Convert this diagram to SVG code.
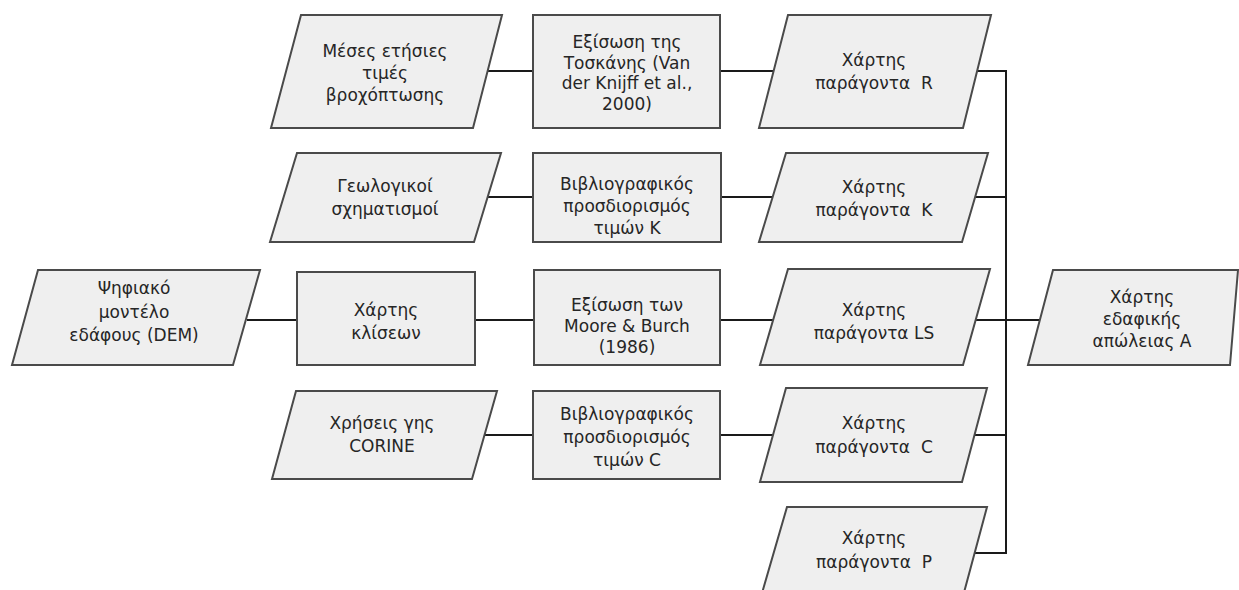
<svg xmlns="http://www.w3.org/2000/svg" width="1239" height="590" viewBox="0 0 1239 590">
<style>
.shape{fill:#efefef;stroke:#4a4a4a;stroke-width:2}
.lbl{font-family:"DejaVu Sans","Liberation Sans",sans-serif;font-size:17px;fill:#262626;text-anchor:middle}
.conn{stroke:#1a1a1a;stroke-width:2;fill:none}
</style>
<rect width="1239" height="590" fill="#ffffff"/>
<g id="connectors">
<line class="conn" x1="487" y1="71" x2="533" y2="71"/>
<line class="conn" x1="720" y1="71" x2="774" y2="71"/>
<line class="conn" x1="977" y1="71" x2="1006" y2="71"/>
<line class="conn" x1="487" y1="197" x2="533" y2="197"/>
<line class="conn" x1="721" y1="197" x2="772" y2="197"/>
<line class="conn" x1="973" y1="197" x2="1006" y2="197"/>
<line class="conn" x1="247" y1="320" x2="297" y2="320"/>
<line class="conn" x1="475" y1="320" x2="534" y2="320"/>
<line class="conn" x1="720" y1="320" x2="774" y2="320"/>
<line class="conn" x1="976" y1="320" x2="1041" y2="320"/>
<line class="conn" x1="484" y1="435" x2="533" y2="435"/>
<line class="conn" x1="720" y1="435" x2="773" y2="435"/>
<line class="conn" x1="975" y1="435" x2="1006" y2="435"/>
<line class="conn" x1="975" y1="553" x2="1006" y2="553"/>
<line class="conn" x1="1006" y1="70" x2="1006" y2="554"/>
</g>
<g id="n-rain">
<polygon class="shape" points="301,15 502,15 473,128 271,128"/>
<text class="lbl" x="385" y="57">Μέσες ετήσιες</text>
<text class="lbl" x="385" y="79">τιμές</text>
<text class="lbl" x="385" y="101">βροχόπτωσης</text>
</g>
<g id="n-tuscany">
<rect class="shape" x="533" y="15" width="187" height="113"/>
<text class="lbl" x="627" y="48">Εξίσωση της</text>
<text class="lbl" x="627" y="69">Τοσκάνης (Van</text>
<text class="lbl" x="627" y="89">der Knijff et al.,</text>
<text class="lbl" x="627" y="110">2000)</text>
</g>
<g id="n-R">
<polygon class="shape" points="788,15 991,15 963,128 759,128"/>
<text class="lbl" x="874" y="66">Χάρτης</text>
<text class="lbl" x="874" y="89" xml:space="preserve">παράγοντα  R</text>
</g>
<g id="n-geo">
<polygon class="shape" points="297,153 501,153 474,242 270,242"/>
<text class="lbl" x="385" y="192">Γεωλογικοί</text>
<text class="lbl" x="385" y="215">σχηματισμοί</text>
</g>
<g id="n-bibK">
<rect class="shape" x="533" y="153" width="188" height="89"/>
<text class="lbl" x="627" y="190">Βιβλιογραφικός</text>
<text class="lbl" x="627" y="212">προσδιορισμός</text>
<text class="lbl" x="627" y="234">τιμών K</text>
</g>
<g id="n-K">
<polygon class="shape" points="786,153 988,153 962,242 759,242"/>
<text class="lbl" x="874" y="193">Χάρτης</text>
<text class="lbl" x="874" y="216" xml:space="preserve">παράγοντα  K</text>
</g>
<g id="n-dem">
<polygon class="shape" points="38,270 260,270 233,365 12,365"/>
<text class="lbl" x="134" y="294">Ψηφιακό</text>
<text class="lbl" x="134" y="318">μοντέλο</text>
<text class="lbl" x="134" y="341">εδάφους (DEM)</text>
</g>
<g id="n-slope">
<rect class="shape" x="297" y="272" width="178" height="93"/>
<text class="lbl" x="386" y="316">Χάρτης</text>
<text class="lbl" x="386" y="339">κλίσεων</text>
</g>
<g id="n-moore">
<rect class="shape" x="534" y="270" width="186" height="95"/>
<text class="lbl" x="627" y="311">Εξίσωση των</text>
<text class="lbl" x="627" y="332">Moore &amp; Burch</text>
<text class="lbl" x="627" y="353">(1986)</text>
</g>
<g id="n-LS">
<polygon class="shape" points="788,269 990,269 963,365 760,365"/>
<text class="lbl" x="874" y="316">Χάρτης</text>
<text class="lbl" x="874" y="339">παράγοντα LS</text>
</g>
<g id="n-A">
<polygon class="shape" points="1053,270 1238,270 1230,365 1028,365"/>
<text class="lbl" x="1142" y="303">Χάρτης</text>
<text class="lbl" x="1142" y="325">εδαφικής</text>
<text class="lbl" x="1142" y="347">απώλειας A</text>
</g>
<g id="n-corine">
<polygon class="shape" points="296,391 497,391 472,479 272,479"/>
<text class="lbl" x="382" y="429">Χρήσεις γης</text>
<text class="lbl" x="382" y="452">CORINE</text>
</g>
<g id="n-bibC">
<rect class="shape" x="533" y="391" width="187" height="88"/>
<text class="lbl" x="627" y="420">Βιβλιογραφικός</text>
<text class="lbl" x="627" y="443">προσδιορισμός</text>
<text class="lbl" x="627" y="466">τιμών C</text>
</g>
<g id="n-C">
<polygon class="shape" points="786,388 987,388 962,482 760,482"/>
<text class="lbl" x="874" y="429">Χάρτης</text>
<text class="lbl" x="874" y="453" xml:space="preserve">παράγοντα  C</text>
</g>
<g id="n-P">
<polygon class="shape" points="787,507 987,507 962,600 760,600"/>
<text class="lbl" x="874" y="544">Χάρτης</text>
<text class="lbl" x="874" y="568" xml:space="preserve">παράγοντα  P</text>
</g>
</svg>
